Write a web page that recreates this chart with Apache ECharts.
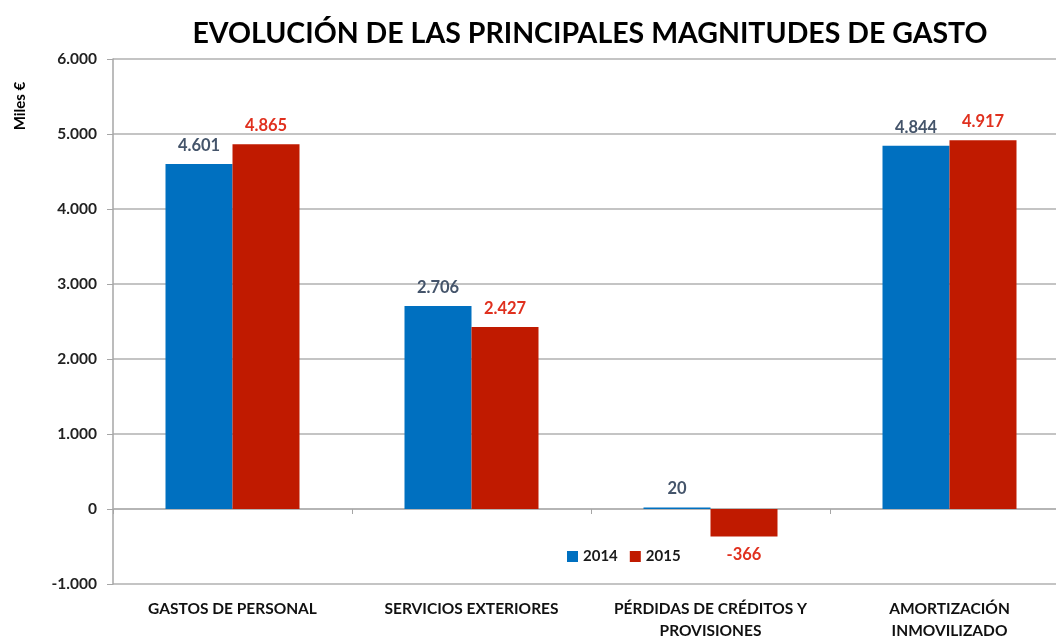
<!DOCTYPE html>
<html><head><meta charset="utf-8">
<script src="https://cdn.jsdelivr.net/npm/echarts@6/dist/echarts.min.js"></script>
<style>html,body{margin:0;padding:0;background:#fff}#c{width:1056px;height:639px}</style>
</head><body><div id="c"></div>
<script>
const categories = ['GASTOS DE PERSONAL', 'SERVICIOS EXTERIORES', 'PÉRDIDAS DE CRÉDITOS Y\nPROVISIONES', 'AMORTIZACIÓN\nINMOVILIZADO'];
const values2014 = [4601, 2706, 20, 4844];
const values2015 = [4865, 2427, -366, 4917];
const seriesNames = ['2014', '2015'];
const titleText = 'EVOLUCIÓN DE LAS PRINCIPALES MAGNITUDES DE GASTO';
const yAxisName = 'Miles €';

function fmt(v) {
  const s = Math.abs(v).toString().replace(/\B(?=(\d{3})+(?!\d))/g, '.');
  return (v < 0 ? '-' : '') + s;
}
const FONT = 'Lato';
function mk(vals) {
  return vals.map(v => ({
    value: v,
    label: { position: v < 0 ? 'bottom' : 'top' }
  }));
}
const chart = echarts.init(document.getElementById('c'), null, {renderer: 'canvas'});
chart.setOption({
  animation: false,
  backgroundColor: '#fff',
  textStyle: { fontFamily: FONT },
  graphic: [
    { type: 'text', x: 590, y: 34, style: { text: titleText, font: 'bold 28.5px Lato', fill: '#000', textAlign: 'center', textVerticalAlign: 'middle' } },
    { type: 'text', x: 20, y: 106, rotation: Math.PI / 2, style: { text: yAxisName, font: 'bold 15px Lato', fill: '#000', textAlign: 'center', textVerticalAlign: 'middle' } }
  ],
  legend: {
    left: 562, top: 544, itemWidth: 11, itemHeight: 11, itemGap: 12,
    icon: 'rect',
    textStyle: { fontFamily: FONT, fontWeight: 'bold', fontSize: 15, color: '#1a1a1a' },
    data: seriesNames
  },
  grid: { left: 113, top: 59, width: 956, bottom: 55, containLabel: false, outerBoundsMode: 'none' },
  xAxis: [
    {
      type: 'category', data: categories, position: 'bottom',
      axisLine: { show: false, onZero: false }, axisTick: { show: false },
      axisLabel: { fontFamily: FONT, fontWeight: 'bold', fontSize: 15.5, color: '#111', margin: 14, lineHeight: 22, interval: 0 }
    },
    {
      type: 'category', data: categories, position: 'bottom',
      axisLine: { show: true, onZero: true, lineStyle: { color: '#b0b0b0', width: 1.5 } },
      axisTick: { show: true, length: 5, lineStyle: { color: '#a6a6a6' } },
      axisLabel: { show: false }
    }
  ],
  yAxis: {
    type: 'value', min: -1000, max: 6000, interval: 1000,
    axisLine: { show: true, lineStyle: { color: '#a6a6a6', width: 1.5 } },
    axisTick: { show: true, length: 6, lineStyle: { color: '#a6a6a6' } },
    splitLine: { show: true, lineStyle: { color: '#b0b0b0', width: 1.5 } },
    axisLabel: { formatter: fmt, fontFamily: FONT, fontWeight: 'bold', fontSize: 15.5, color: '#222', margin: 16 }
  },
  series: [
    {
      name: seriesNames[0], type: 'bar', xAxisIndex: 0, data: mk(values2014),
      barWidth: 67, barGap: '0%', itemStyle: { color: '#0070C0' },
      label: { show: true, formatter: p => fmt(p.value), distance: 10, fontFamily: FONT, fontWeight: 'bold', fontSize: 16.5, color: '#44546A' }
    },
    {
      name: seriesNames[1], type: 'bar', xAxisIndex: 0, data: mk(values2015),
      barWidth: 67, barGap: '0%', itemStyle: { color: '#C01A00' },
      label: { show: true, formatter: p => fmt(p.value), distance: 10, fontFamily: FONT, fontWeight: 'bold', fontSize: 16.5, color: '#E0301E' }
    }
  ]
});
</script></body></html>
